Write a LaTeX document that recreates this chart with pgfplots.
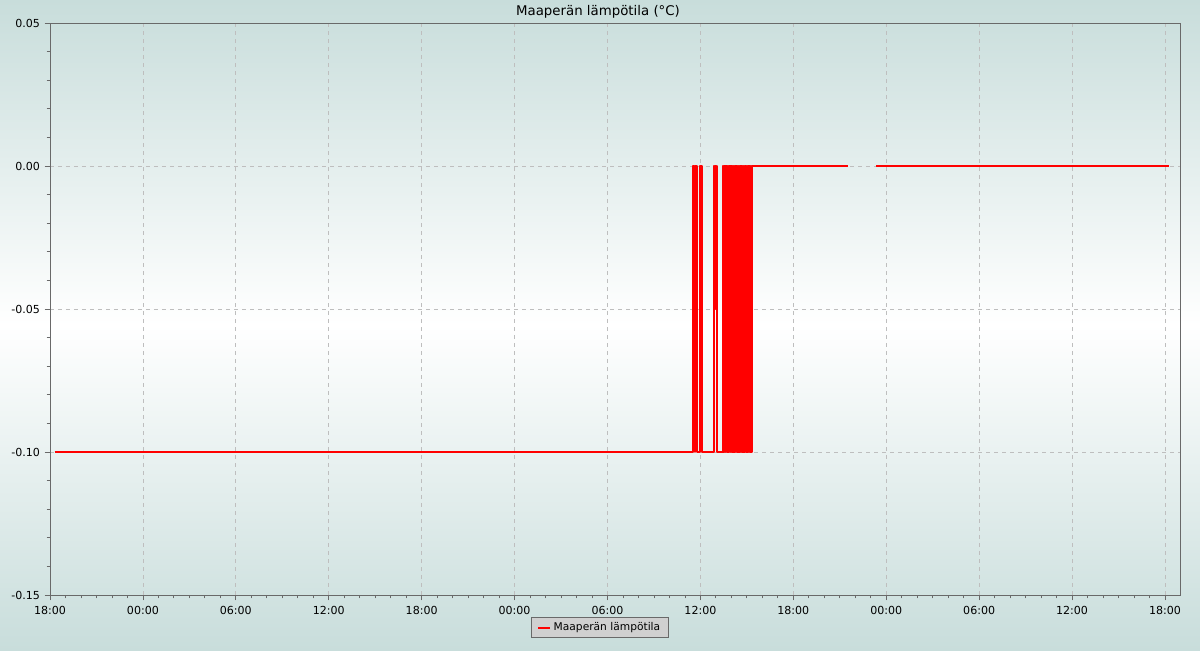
\documentclass[border=0pt]{standalone}
\usepackage{pgfplots}
\pgfplotsset{compat=1.18}
\usepackage{fontspec}
\setmainfont{DejaVu Sans}
\definecolor{bgteal}{RGB}{200,221,219}
\definecolor{gridgray}{RGB}{190,190,190}
\definecolor{axgray}{RGB}{105,105,105}

\begin{document}
\begin{tikzpicture}[x=0.75pt,y=0.75pt]
% figure background, 1200 x 650 px
\shade[top color=bgteal, bottom color=bgteal, middle color=white] (0,0) rectangle (1200,650);
\node[font=\fontsize{10}{12}\selectfont] at (598,638) {Maaperän lämpötila (°C)};
\begin{axis}[
    scale only axis,
    anchor=south west,
    at={(37.5pt,41.25pt)},
    width=847.5pt,
    height=429pt,
    xmin=0, xmax=72.97,
    ymin=-0.15, ymax=0.05,
    xtick={0,6,...,72},
    xticklabels={18:00,00:00,06:00,12:00,18:00,00:00,06:00,12:00,18:00,00:00,06:00,12:00,18:00},
    minor x tick num=5,
    ytick={-0.15,-0.10,-0.05,0.00,0.05},
    yticklabels={-0.15,-0.10,-0.05,0.00,0.05},
    minor y tick num=4,
    xtick pos=bottom, ytick pos=left,
    tick align=outside,
    major tick length=4pt,
    minor tick length=2.5pt,
    tick style={axgray, line width=0.6pt},
    axis line style={axgray, line width=0.7pt},
    xmajorgrids, ymajorgrids,
    grid style={gridgray, dashed, line width=0.6pt},
    ticklabel style={font=\fontsize{8.3}{10}\selectfont},
    /pgf/number format/assume math mode=true,
    xticklabel style={yshift=-1pt},
    unbounded coords=jump,
    legend style={
        at={(0.4867,-0.0385)}, anchor=north,
        fill={rgb,255:red,208;green,208;blue,208},
        draw=axgray, line width=0.6pt,
        font=\fontsize{8}{9.5}\selectfont,
        inner xsep=4.5pt, inner ysep=1.8pt,
    },
    legend image code/.code={\draw[#1] (0pt,0pt) -- (9pt,0pt);},
]
\addplot[red, line width=1.5pt, const plot, line join=round] coordinates {
    (0.3,-0.1) (41.49,-0.1) (41.51,0) (41.55,0) (41.58,-0.05) (41.62,-0.1)
    (41.68,0) (41.74,0) (41.77,-0.1) (41.98,-0.1) (42.00,0) (42.05,0) (42.08,-0.1)
    (42.82,-0.1) (42.85,0) (42.88,-0.05) (42.92,-0.05) (42.95,0) (43.00,0)
    (43.02,-0.05) (43.06,0) (43.10,-0.1) (43.40,-0.1)
    (43.44,0) (43.48,-0.1) (43.52,0) (43.56,-0.1) (43.60,0) (43.64,-0.1)
    (43.68,0) (43.72,-0.1) (43.76,0) (43.80,-0.1) (43.84,0) (43.88,-0.1)
    (43.92,0) (43.96,-0.1) (44.00,0) (44.04,-0.1) (44.08,0) (44.12,-0.1)
    (44.16,0) (44.20,-0.1) (44.24,0) (44.28,-0.1) (44.32,0) (44.36,-0.1)
    (44.40,0) (44.44,-0.1) (44.48,0) (44.52,-0.1) (44.56,0) (44.60,-0.1)
    (44.64,0) (44.68,-0.1) (44.72,0) (44.76,-0.1) (44.80,0) (44.84,-0.1)
    (44.88,0) (44.92,-0.05) (44.96,-0.1) (45.00,0) (45.04,-0.1) (45.08,0)
    (45.12,-0.1) (45.16,0) (45.20,-0.1) (45.24,0) (45.28,-0.1) (45.31,0)
    (51.53,0) (52.4,nan) (53.34,0) (72.26,0)
};
\legend{Maaperän lämpötila}
\end{axis}
\end{tikzpicture}
\end{document}
